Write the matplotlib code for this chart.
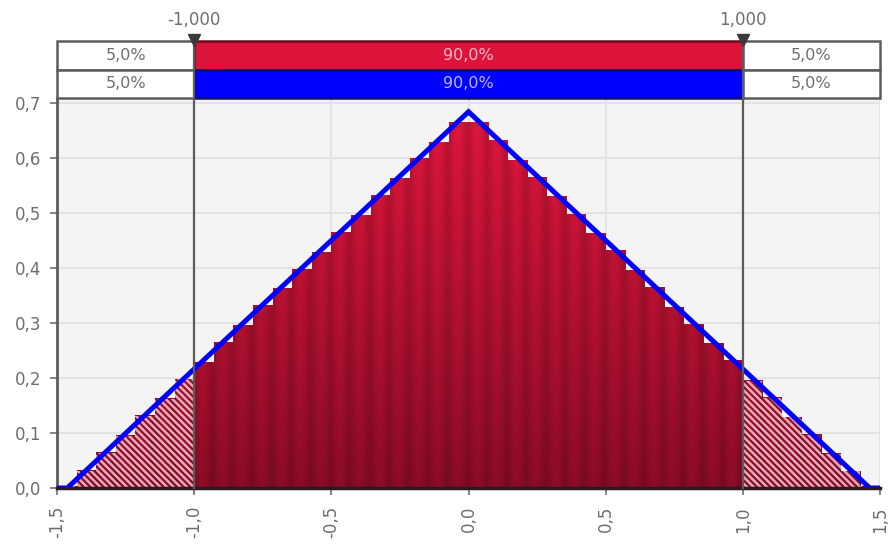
import numpy as np
import matplotlib
matplotlib.use("Agg")
import matplotlib.pyplot as plt
from matplotlib.patches import Rectangle
from matplotlib.lines import Line2D
import matplotlib.transforms as mtransforms

# histogram (density), 42 bins on [-1.5, 1.5]
bin_edges = np.linspace(-1.5, 1.5, 43)
hist_vals = [0.003, 0.031, 0.064, 0.095, 0.131, 0.162, 0.198, 0.229, 0.265, 0.295,
             0.332, 0.362, 0.398, 0.429, 0.465, 0.496, 0.532, 0.563, 0.599, 0.629,
             0.665, 0.664, 0.631, 0.596, 0.564, 0.530, 0.498, 0.463, 0.431, 0.396,
             0.364, 0.329, 0.297, 0.262, 0.231, 0.195, 0.164, 0.129, 0.097, 0.062,
             0.030, 0.003]

# fitted triangular density
fit_x = [-1.5, -1.4625, 0.0, 1.4625, 1.5]
fit_y = [0.0, 0.0, 0.684, 0.0, 0.0]

# delimiters and percentages in the top strip
markers = [-1.0, 1.0]
marker_labels = ["-1,000", "1,000"]
pct_labels = ["5,0%", "90,0%", "5,0%"]

x_ticks = [-1.5, -1.0, -0.5, 0.0, 0.5, 1.0, 1.5]
y_ticks = [0.0, 0.1, 0.2, 0.3, 0.4, 0.5, 0.6, 0.7]

plt.rcParams["hatch.linewidth"] = 1.8

W, H = 888, 545
fig = plt.figure(figsize=(W / 100, H / 100), dpi=100)
ax = fig.add_axes([57 / W, (H - 488) / H, (880 - 57) / W, (488 - 98) / H])
ax_top = fig.add_axes([57 / W, (H - 98) / H, (880 - 57) / W, (98 - 41) / H])

text_col = "#6e6e6e"
line_col = "#5c5c5c"

ax.set_facecolor("#f4f4f4")
ax.set_axisbelow(True)
ax.grid(True, color="#e3e3e3", lw=1.5)

# gradient bars
bottom_rgb = np.array([140, 12, 38]) / 255
top_rgb = np.array([226, 22, 62]) / 255
xs = np.linspace(0, 1, 24)
shade = 0.86 + 0.14 * np.sin(np.pi * np.clip(xs * 1.15, 0, 1))
widths = np.diff(bin_edges)
for left, w, h in zip(bin_edges[:-1], widths, hist_vals):
    ys = np.linspace(0, h, 60)
    t = (ys / 0.7)[:, None]
    col = bottom_rgb + (top_rgb - bottom_rgb) * t
    img = np.clip(col[:, None, :] * shade[None, :, None], 0, 1)
    ax.imshow(img, extent=(left, left + w, 0, h), origin="lower", aspect="auto",
              interpolation="bilinear", zorder=2)
    centre = left + w / 2
    if centre < markers[0] or centre > markers[1]:
        ax.add_patch(Rectangle((left, 0), w, h, fill=False, hatch="\\\\\\\\\\",
                               edgecolor=(1, 0.82, 0.87, 0.8), lw=0, zorder=3))

ax.plot(fit_x, fit_y, color="#0000ff", lw=3.6, zorder=4, solid_joinstyle="miter")

ax.set_xlim(-1.5, 1.5)
ax.set_ylim(0, 0.709)
ax.set_xticks(x_ticks)
ax.set_yticks(y_ticks)
ax.set_xticklabels([f"{v:.1f}".replace(".", ",") for v in x_ticks], rotation=90)
ax.set_yticklabels([f"{v:.1f}".replace(".", ",") for v in y_ticks])
ax.tick_params(colors=text_col, labelcolor=text_col, labelsize=12, length=5, width=1.2)
ax.tick_params(axis="y", pad=6)
ax.tick_params(axis="x", pad=8)
for side in ["top", "right"]:
    ax.spines[side].set_visible(False)
ax.spines["left"].set_color(line_col)
ax.spines["left"].set_linewidth(2)
ax.spines["bottom"].set_color("#2a1a1e")
ax.spines["bottom"].set_linewidth(2.5)
ax.spines["bottom"].set_zorder(5)

# top strip with the percentages
ax_top.set_xlim(-1.5, 1.5)
ax_top.set_ylim(0, 2)
ax_top.axis("off")
bounds = [-1.5] + markers + [1.5]
row_fill = [("white", "#dc143c", "white"), ("white", "#0000ff", "white")]
row_edge = [("#5c5c5c", "#6a0a1c", "#5c5c5c"), ("#5c5c5c", "#10106a", "#5c5c5c")]
mid_text = ["#f4b8c4", "#b8b8ff"]
for r, yrow in enumerate([1, 0]):
    for c in range(3):
        x0, x1 = bounds[c], bounds[c + 1]
        ax_top.add_patch(Rectangle((x0, yrow), x1 - x0, 1, facecolor=row_fill[r][c],
                                   edgecolor=row_edge[r][c], lw=1.8, clip_on=False))
        ax_top.text((x0 + x1) / 2, yrow + 0.5, pct_labels[c], ha="center", va="center",
                    fontsize=11.5, color=mid_text[r] if c == 1 else text_col)

# delimiter lines, arrows and labels
trans = mtransforms.blended_transform_factory(ax.transData, fig.transFigure)
for m, lab in zip(markers, marker_labels):
    fig.add_artist(Line2D([m, m], [(H - 488) / H, (H - 40) / H], transform=trans,
                          color=line_col, lw=1.6, zorder=6))
    fig.add_artist(Line2D([m], [(H - 40) / H], transform=trans, marker="v",
                          markersize=9, color="#3a3a3a", lw=0, zorder=7))
    fig.text(m, (H - 20) / H, lab, transform=trans, ha="center", va="center",
             fontsize=12, color=text_col)

fig.savefig("out.png", dpi=100)
